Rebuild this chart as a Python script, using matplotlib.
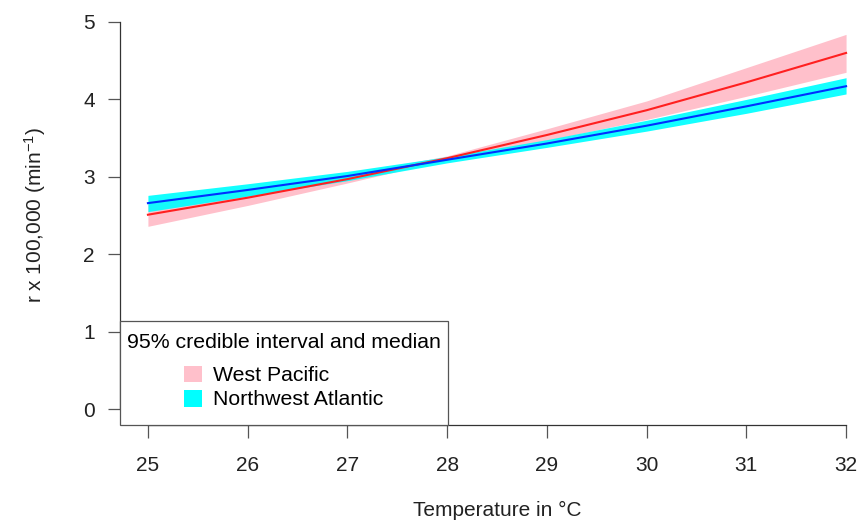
import numpy as np
import matplotlib
matplotlib.use("Agg")
import matplotlib.pyplot as plt
from matplotlib.patches import Patch
from matplotlib.offsetbox import VPacker, DrawingArea

plt.rcParams["font.family"] = ["Liberation Sans", "DejaVu Sans"]
plt.rcParams["mathtext.default"] = "regular"

# -------------------------
# Data
# -------------------------
temp = [25, 26, 27, 28, 29, 30, 31, 32]

# West Pacific: median and 95% credible interval
wp_med = [2.51, 2.73, 2.97, 3.24, 3.54, 3.86, 4.22, 4.60]
wp_lo = [2.36, 2.63, 2.92, 3.22, 3.47, 3.74, 4.04, 4.35]
wp_hi = [2.66, 2.84, 3.03, 3.27, 3.62, 3.98, 4.41, 4.84]

# Northwest Atlantic: median and 95% credible interval
nwa_med = [2.66, 2.83, 3.01, 3.22, 3.43, 3.66, 3.91, 4.17]
nwa_lo = [2.55, 2.75, 2.95, 3.18, 3.38, 3.59, 3.82, 4.07]
nwa_hi = [2.76, 2.91, 3.07, 3.26, 3.48, 3.73, 4.00, 4.28]

x_ticks = [25, 26, 27, 28, 29, 30, 31, 32]
y_ticks = [0, 1, 2, 3, 4, 5]

# -------------------------
# Figure (R base-graphics look)
# -------------------------
W, H = 859, 520
fig = plt.figure(figsize=(W / 100, H / 100), dpi=100)
ax = fig.add_axes([120 / W, (H - 424.5) / H, 754 / W, 418 / H])

ax.fill_between(temp, wp_lo, wp_hi, color="pink", lw=0)
ax.plot(temp, wp_med, color="#ff2020", lw=1.5)
ax.fill_between(temp, nwa_lo, nwa_hi, color="cyan", lw=0, alpha=0.92)
ax.plot(temp, nwa_med, color="#0030ff", lw=1.5)

ax.set_xlim(24.72, 32.28)
ax.set_ylim(-0.2, 5.2)
ax.set_xticks(x_ticks)
ax.set_yticks(y_ticks)

for s in ["top", "right"]:
    ax.spines[s].set_visible(False)
ax.spines["left"].set_bounds(0, 5)
ax.spines["bottom"].set_bounds(25, 32)
for s in ["left", "bottom"]:
    ax.spines[s].set_color("#333333")
    ax.spines[s].set_linewidth(0.9)

ax.tick_params(axis="both", direction="out", length=9, width=0.9,
               color="#555555", labelsize=15, labelcolor="#222222")
ax.tick_params(axis="x", pad=14)
ax.tick_params(axis="y", pad=9)

ax.set_xlabel("Temperature in \u00b0C", fontsize=15, color="#222222")
ax.set_ylabel("r x 100,000 (min$^{-1}$)", fontsize=15, color="#222222")
ax.xaxis.set_label_coords(0.5, -0.182)
ax.yaxis.set_label_coords(-0.095, 0.5)

# legend, nudged to R's spacing
handles = [Patch(facecolor="pink", edgecolor="none", label="West Pacific"),
           Patch(facecolor="cyan", edgecolor="none", label="Northwest Atlantic")]
leg = ax.legend(handles=handles, title="95% credible interval and median",
                loc="lower left", bbox_to_anchor=(0, 0), borderaxespad=0,
                fontsize=15.3, title_fontsize=15.3, frameon=True, fancybox=False,
                framealpha=1, edgecolor="#555555", handlelength=0.85,
                handleheight=0.85, handletextpad=0.5, labelspacing=0.2,
                borderpad=0.33)
leg.get_frame().set_linewidth(0.9)
leg._legend_handle_box.pad = 2.9

# extra vertical room above the title and below the entries (no extra width)
top_gap = DrawingArea(0, 3.6)
bottom_gap = DrawingArea(0, 2.9)
for d in (top_gap, bottom_gap):
    d.set_figure(fig)
top_part = VPacker(children=[top_gap, leg._legend_title_box], pad=0, sep=0,
                   align="center")
bottom_part = VPacker(children=[leg._legend_handle_box, bottom_gap], pad=0,
                      sep=0, align="center")
for p in (top_part, bottom_part):
    p.set_figure(fig)
leg._legend_box._children = [top_part, bottom_part]
leg._legend_box.sep = 6.6

fig.savefig("out.png", dpi=100)
